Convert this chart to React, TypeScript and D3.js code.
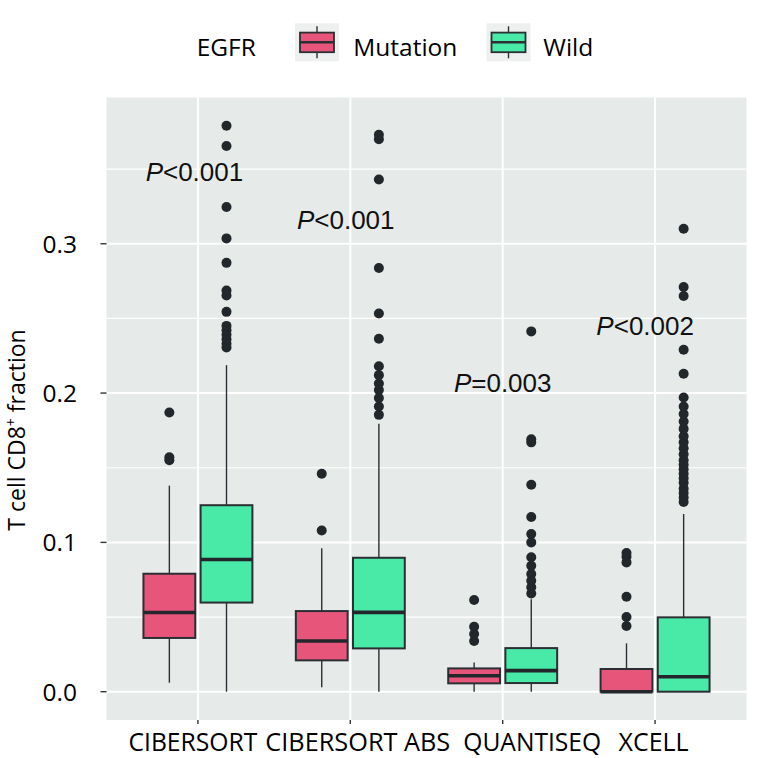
import React, { useRef, useEffect } from 'react';
import * as d3 from 'd3';

// categories and groups
const methods = ['CIBERSORT', 'CIBERSORT ABS', 'QUANTISEQ', 'XCELL'];
const groups = ['Mutation', 'Wild'];
const groupColors = ['#E8557B', '#49E9A8'];

// [lower whisker, q1, median, q3, upper whisker] per method
const mutationStats = [
  [0.006, 0.036, 0.053, 0.079, 0.138],
  [0.003, 0.021, 0.034, 0.054, 0.096],
  [0.0, 0.0056, 0.0107, 0.0156, 0.0196],
  [0.0, 0.0, 0.0, 0.0152, 0.0324],
];
const wildStats = [
  [0.0, 0.0597, 0.0885, 0.1249, 0.2187],
  [0.0, 0.029, 0.0531, 0.0897, 0.1795],
  [0.0, 0.0058, 0.0141, 0.0292, 0.062],
  [0.0, 0.0, 0.01, 0.0498, 0.119],
];

const mutationOutliers = [
  [0.155, 0.157, 0.187],
  [0.108, 0.146],
  [0.034, 0.0386, 0.0435, 0.0614],
  [0.044, 0.05, 0.0636, 0.0866, 0.0904, 0.0929],
];
const wildOutliers = [
  [0.2305, 0.233, 0.236, 0.239, 0.242, 0.245, 0.2544, 0.2654, 0.2687, 0.2872, 0.3036, 0.3246, 0.3655, 0.379],
  [0.1854, 0.191, 0.1967, 0.202, 0.2064, 0.212, 0.218, 0.2364, 0.2533, 0.2838, 0.343, 0.370, 0.373],
  [0.0658, 0.07, 0.0743, 0.0788, 0.0844, 0.09, 0.1, 0.1056, 0.117, 0.1386, 0.167, 0.169, 0.2413],
  [0.127, 0.13, 0.133, 0.136, 0.14, 0.143, 0.146, 0.149, 0.152, 0.155, 0.159, 0.163, 0.167, 0.171,
    0.176, 0.181, 0.186, 0.191, 0.197, 0.213, 0.229, 0.265, 0.271, 0.31],
];

const yTicks = [0.0, 0.1, 0.2, 0.3];
const yMinor = [0.05, 0.15, 0.25, 0.35];

// p-value annotations
const pPrefix = ['P', 'P', 'P', 'P'];
const pText = ['<0.001', '<0.001', '=0.003', '<0.002'];
const pPos = [0.977, 1.97, 3.0, 3.935];
const pY = [0.342, 0.31, 0.201, 0.239];

// small horizontal nudges of the x labels (px) and their drawn widths
const xLabelNudge = [-5, 7.5, 29.5, -1.5];
const xLabelWidth = [129, 185, 138, 70];

const W = 773;
const H = 758;
const panel = { left: 106.5, right: 746.5, top: 97.5, bottom: 720 };
const FONT = "'Open Sans', 'Noto Sans', sans-serif";

const App = () => {
  const svgRef = useRef<SVGSVGElement>(null);

  useEffect(() => {
    const svg = d3.select(svgRef.current);
    svg.selectAll('*').remove();

    const allVals = [
      ...mutationStats.flat(), ...wildStats.flat(),
      ...mutationOutliers.flat(), ...wildOutliers.flat(),
    ];
    const [vmin, vmax] = d3.extent(allVals) as [number, number];
    const pad = (vmax - vmin) * 0.05;

    const y = d3.scaleLinear()
      .domain([vmin - pad, vmax + pad])
      .range([panel.bottom, panel.top]);

    const x = d3.scalePoint()
      .domain(methods)
      .range([panel.left, panel.right])
      .padding(0.6);
    const step = x.step();
    const xIdx = d3.scaleLinear()
      .domain([1, methods.length])
      .range([x(methods[0])!, x(methods[methods.length - 1])!]);

    const boxW = step * 0.34;
    const dodge = step * 0.1875;

    // panel background
    svg.append('rect')
      .attr('x', panel.left)
      .attr('y', panel.top)
      .attr('width', panel.right - panel.left)
      .attr('height', panel.bottom - panel.top)
      .attr('fill', '#E6EBE9');

    // grid
    svg.selectAll('line.minor')
      .data(yMinor)
      .join('line')
      .attr('x1', panel.left).attr('x2', panel.right)
      .attr('y1', d => y(d)).attr('y2', d => y(d))
      .attr('stroke', '#fff').attr('stroke-width', 1.2);

    svg.selectAll('line.major')
      .data(yTicks)
      .join('line')
      .attr('x1', panel.left).attr('x2', panel.right)
      .attr('y1', d => y(d)).attr('y2', d => y(d))
      .attr('stroke', '#fff').attr('stroke-width', 2);

    svg.selectAll('line.vgrid')
      .data(methods)
      .join('line')
      .attr('x1', d => x(d)!).attr('x2', d => x(d)!)
      .attr('y1', panel.top).attr('y2', panel.bottom)
      .attr('stroke', '#fff').attr('stroke-width', 2);

    // boxplots
    const boxes: any[] = [];
    methods.forEach((m, i) => {
      boxes.push({ m, g: 0, s: mutationStats[i], out: mutationOutliers[i] });
      boxes.push({ m, g: 1, s: wildStats[i], out: wildOutliers[i] });
    });

    const bg = svg.selectAll('g.box')
      .data(boxes)
      .join('g')
      .attr('class', 'box')
      .attr('transform', d => `translate(${x(d.m)! + (d.g === 0 ? -dodge : dodge)},0)`);

    // whiskers
    bg.append('line')
      .attr('x1', 0).attr('x2', 0)
      .attr('y1', d => y(d.s[4])).attr('y2', d => y(d.s[3]))
      .attr('stroke', '#2b2f33').attr('stroke-width', 1.4);
    bg.append('line')
      .attr('x1', 0).attr('x2', 0)
      .attr('y1', d => y(d.s[1])).attr('y2', d => y(d.s[0]))
      .attr('stroke', '#2b2f33').attr('stroke-width', 1.4);

    bg.append('rect')
      .attr('x', -boxW / 2)
      .attr('width', boxW)
      .attr('y', d => y(d.s[3]))
      .attr('height', d => y(d.s[1]) - y(d.s[3]))
      .attr('fill', d => groupColors[d.g])
      .attr('stroke', '#2b2f33')
      .attr('stroke-width', 2);

    bg.append('line')
      .attr('x1', -boxW / 2).attr('x2', boxW / 2)
      .attr('y1', d => y(d.s[2])).attr('y2', d => y(d.s[2]))
      .attr('stroke', '#23272b').attr('stroke-width', 3.6);

    bg.selectAll('circle')
      .data(d => d.out)
      .join('circle')
      .attr('cx', 0)
      .attr('cy', (d: any) => y(d))
      .attr('r', 5)
      .attr('fill', '#22272b');

    // p-value labels
    const pl = svg.selectAll('text.p')
      .data(pText)
      .join('text')
      .attr('class', 'p')
      .attr('x', (d, i) => xIdx(pPos[i]))
      .attr('y', (d, i) => y(pY[i]))
      .attr('text-anchor', 'middle')
      .attr('font-family', "'Liberation Sans', Arial, sans-serif")
      .attr('font-size', 26)
      .attr('fill', '#111');
    pl.append('tspan').attr('font-style', 'italic').text((d, i) => pPrefix[i]);
    pl.append('tspan').text(d => d);

    // y axis ticks + labels
    svg.selectAll('line.ytick')
      .data(yTicks)
      .join('line')
      .attr('x1', panel.left - 6).attr('x2', panel.left)
      .attr('y1', d => y(d)).attr('y2', d => y(d))
      .attr('stroke', '#333').attr('stroke-width', 1.4);

    svg.selectAll('text.ytl')
      .data(yTicks)
      .join('text')
      .attr('x', 77)
      .attr('y', d => y(d))
      .attr('dy', '0.36em')
      .attr('text-anchor', 'end')
      .attr('font-family', FONT)
      .attr('font-size', 24.5)
      .attr('fill', '#000')
      .text(d => d3.format('.1f')(d));

    // x axis ticks + labels
    svg.selectAll('line.xtick')
      .data(methods)
      .join('line')
      .attr('x1', d => x(d)!).attr('x2', d => x(d)!)
      .attr('y1', panel.bottom).attr('y2', panel.bottom + 4)
      .attr('stroke', '#333').attr('stroke-width', 1.4);

    // labels are condensed: measure and squeeze horizontally
    svg.selectAll('text.xtl')
      .data(methods)
      .join('text')
      .attr('class', 'xtl')
      .attr('x', 0)
      .attr('y', 0)
      .attr('text-anchor', 'middle')
      .attr('font-family', FONT)
      .attr('font-size', 25)
      .attr('fill', '#000')
      .text(d => d)
      .each(function (d, i) {
        const len = (this as SVGTextElement).getComputedTextLength() || xLabelWidth[i];
        const sx = xLabelWidth[i] / len;
        d3.select(this).attr('transform',
          `translate(${x(d)! + xLabelNudge[i]},751) scale(${sx},1)`);
      });

    // y axis title
    const yt = svg.append('text')
      .attr('transform', `translate(25,430) rotate(-90)`)
      .attr('text-anchor', 'middle')
      .attr('font-family', FONT)
      .attr('font-size', 23)
      .attr('fill', '#000');
    yt.append('tspan').text('T cell CD8');
    yt.append('tspan').attr('font-size', 14).attr('dy', -9).text('+');
    yt.append('tspan').attr('dy', 9).text(' fraction');

    // legend
    const legendY = 42.3;
    svg.append('text')
      .attr('x', 196.7).attr('y', 55.5)
      .attr('font-family', FONT)
      .attr('font-size', 24.5).attr('fill', '#000')
      .text('EGFR');

    const keyX = [317, 508.5];
    const labX = [353.3, 543.3];
    const lg = svg.selectAll('g.key')
      .data(groups)
      .join('g')
      .attr('transform', (d, i) => `translate(${keyX[i]},${legendY})`);
    lg.append('rect')
      .attr('x', -22).attr('y', -19).attr('width', 44).attr('height', 38)
      .attr('fill', '#EDF0EF');
    lg.append('line')
      .attr('x1', 0).attr('x2', 0).attr('y1', -16).attr('y2', 16)
      .attr('stroke', '#2b2f33').attr('stroke-width', 1.4);
    lg.append('rect')
      .attr('x', -17).attr('y', -9.7).attr('width', 34).attr('height', 19.6)
      .attr('fill', (d, i) => groupColors[i])
      .attr('stroke', '#2b2f33').attr('stroke-width', 1.8);
    lg.append('line')
      .attr('x1', -17).attr('x2', 17).attr('y1', 0).attr('y2', 0)
      .attr('stroke', '#2b2f33').attr('stroke-width', 2.4);
    lg.append('text')
      .attr('x', (d, i) => labX[i] - keyX[i])
      .attr('y', 13.2)
      .attr('font-family', FONT)
      .attr('font-size', 24.5).attr('fill', '#000')
      .text(d => d);
  }, []);

  return (
    <svg
      ref={svgRef}
      width={W}
      height={H}
      style={{ position: 'absolute', left: 0, top: 0, background: '#fff' }}
    />
  );
};

export default App;
